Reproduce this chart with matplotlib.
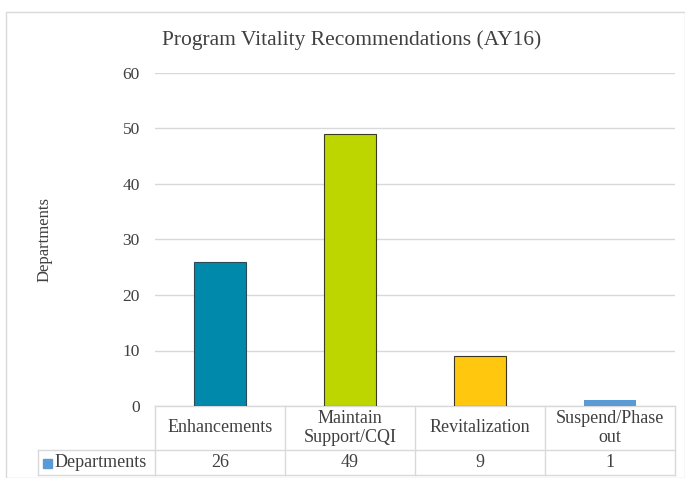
import matplotlib
matplotlib.use("Agg")
import matplotlib.pyplot as plt
import matplotlib.transforms as mtransforms
from matplotlib.patches import Rectangle

categories = ["Enhancements", "Maintain\nSupport/CQI", "Revitalization", "Suspend/Phase\nout"]
values = [26, 49, 9, 1]
series_name = "Departments"
title = "Program Vitality Recommendations (AY16)"
yticks = [0, 10, 20, 30, 40, 50, 60]
colors = ["#0089AB", "#BED600", "#FFC80F", "#5B9BD5"]
edges = ["#2b4a55", "#3b3b1f", "#3b3520", "none"]

plt.rcParams['font.family'] = ['Liberation Serif', 'DejaVu Serif']
txt = "#404040"
grid = "#D9D9D9"

fig = plt.figure(figsize=(6.85, 4.78), dpi=100)
W, H = 685, 478
ax = fig.add_axes([155 / W, (H - 406) / H, 520 / W, 333 / H])

for i, (v, c, e) in enumerate(zip(values, colors, edges)):
    ax.bar(i, v, width=0.4, color=c, edgecolor=e, linewidth=0.8 if e != "none" else 0, zorder=3)

ax.set_xlim(-0.5, len(categories) - 0.5)
ax.set_ylim(0, 60)
ax.set_yticks(yticks)
ax.set_yticklabels([str(t) for t in yticks], fontsize=12.5, color=txt)
ax.tick_params(axis='y', length=0, pad=11)
ax.set_xticks([])
for s in ax.spines.values():
    s.set_visible(False)
ax.yaxis.grid(True, color=grid, linewidth=1)
ax.set_axisbelow(True)

# table below axes
tr = mtransforms.blended_transform_factory(ax.transData, ax.transAxes)
y_top, y_mid, y_bot = 0.0, (406 - 450) / 333, (406 - 475) / 333
x_left_lab = (38 - 155) / 520
lk = dict(color=grid, linewidth=1, clip_on=False)
ax.plot([-0.5, len(categories) - 0.5], [y_top, y_top], transform=tr, **lk)
ax.plot([-0.5, len(categories) - 0.5], [y_mid, y_mid], transform=tr, **lk)
ax.plot([-0.5, len(categories) - 0.5], [y_bot, y_bot], transform=tr, **lk)
for i in range(len(categories) + 1):
    ax.plot([i - 0.5, i - 0.5], [y_top, y_bot], transform=tr, **lk)
ax.plot([x_left_lab, 0], [y_mid, y_mid], transform=ax.transAxes, **lk)
ax.plot([x_left_lab, 0], [y_bot, y_bot], transform=ax.transAxes, **lk)
ax.plot([x_left_lab, x_left_lab], [y_mid, y_bot], transform=ax.transAxes, **lk)

for i, (cat, v) in enumerate(zip(categories, values)):
    ax.text(i, (y_top + y_mid) / 2, cat, transform=tr, ha='center', va='center',
            fontsize=13, color=txt, linespacing=1.1)
    ax.text(i, (y_mid + y_bot) / 2, str(v), transform=tr, ha='center', va='center',
            fontsize=13, color=txt)

# row label with legend key
ym = (y_mid + y_bot) / 2
ax.add_patch(Rectangle((x_left_lab + 0.010, ym - 0.016), 0.016, 0.028, transform=ax.transAxes,
                       color=colors[3], clip_on=False))
ax.text(x_left_lab + 0.031, ym, series_name, transform=ax.transAxes, ha='left', va='center',
        fontsize=13, color=txt)

fig.text(163 / W + (541 - 163) / 2 / W, 1 - 40 / H, title, ha='center', va='center',
         fontsize=15.5, color=txt)
fig.text(45 / W, 1 - 240 / H, "Departments", rotation=90, ha='center', va='center',
         fontsize=12, color=txt)

# outer border
fig.add_artist(Rectangle((6 / W, 0), (W - 6) / W, 1 - 12 / H, transform=fig.transFigure,
                         fill=False, edgecolor=grid, linewidth=1))

fig.savefig("out.png", dpi=100)
